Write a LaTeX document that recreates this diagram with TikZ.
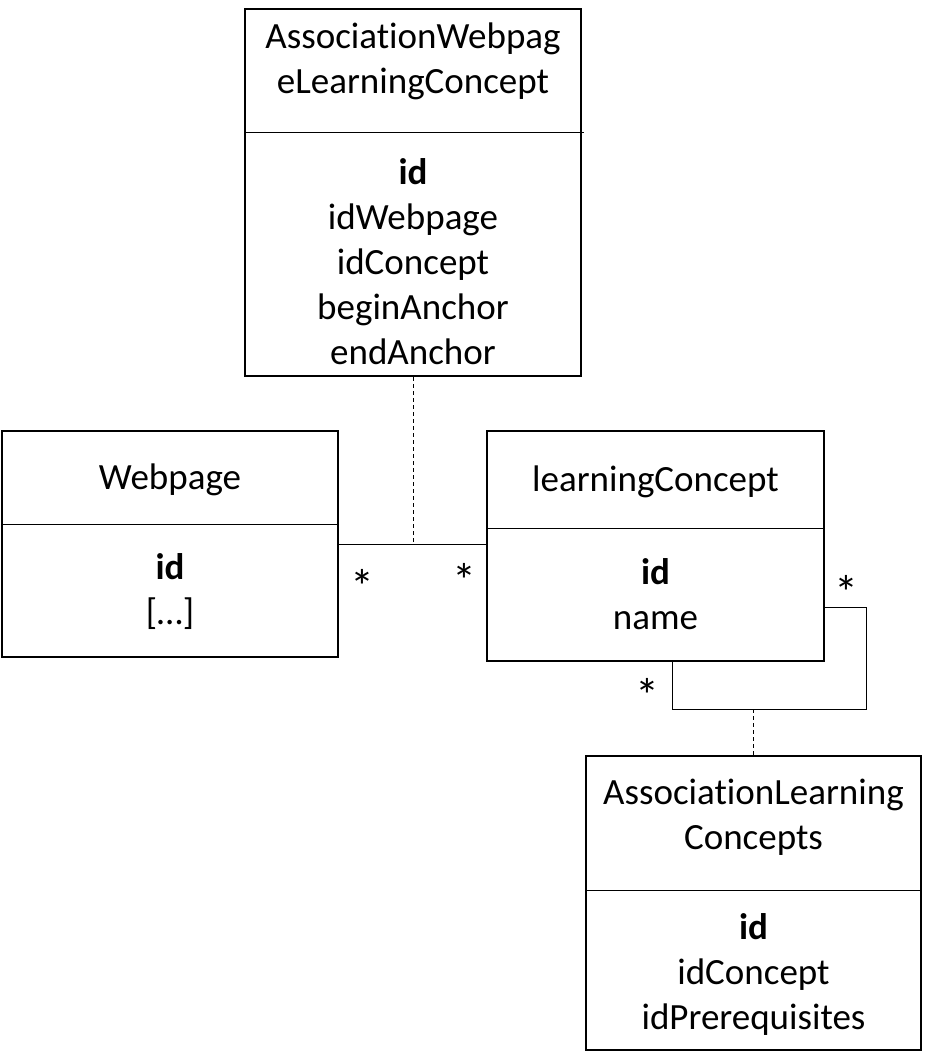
\documentclass[tikz,border=0pt]{standalone}
\usepackage{fontspec}
\setmainfont{Carlito}[Ligatures=NoCommon]
\usepackage{tikz}
\usetikzlibrary{positioning}
\tikzset {
    x=0.5pt, y=-0.5pt,
    every node/.style={font=\fontsize{18.5}{22.5}\selectfont},
    entity/.style={draw, line width=1pt, inner sep=0pt},
    txt/.style={align=center, inner sep=0pt},
    mult/.style={inner sep=0pt, font=\fontsize{24}{28}\selectfont},
    rule/.style={line width=0.5pt},
    assoc/.style={line width=0.5pt, dash pattern=on 2pt off 1.5pt}
}

\begin{document}
\begin{tikzpicture}
                    \useasboundingbox (0,0) rectangle (929,1062);

                    % entities
                    \node[entity, minimum width=168pt, minimum height=183.5pt] (awl) at (413,192.5) {};
                    \node[entity, minimum width=168pt, minimum height=113pt] (wp) at (170,544) {};
                    \node[entity, minimum width=168.5pt, minimum height=115pt] (lc) at (655.5,546) {};
                    \node[entity, minimum width=167.5pt, minimum height=147pt] (alc) at (753.5,903) {};

                    % texts
                    \node[txt] (awlT) at (413,61) {AssociationWebpag\\eLearningConcept};
                    \node[txt] (awlA) at (413,262) {\textbf{id}\\idWebpage\\idConcept\\beginAnchor\\endAnchor};
                    \node[txt] (wpT) at (170,480) {Webpage};
                    \node[txt] (wpA) at (170,592) {\textbf{id}\\{[\dots]}};
                    \node[txt] (lcT) at (655.5,482) {learningConcept};
                    \node[txt] (lcA) at (655.5,594) {\textbf{id}\\name};
                    \node[txt] (alcT) at (753.5,817) {AssociationLearning\\Concepts};
                    \node[txt] (alcA) at (753.5,974) {\textbf{id}\\idConcept\\idPrerequisites};

                    % dividers
                    \coordinate (d1) at (584,132);
                    \coordinate (d2) at (0,524);
                    \coordinate (d3) at (0,528);
                    \coordinate (d4) at (0,890);
                    \draw[rule] (awl.west |- d1) -- (d1);
                    \draw[rule] (wp.west |- d2) -- (wp.east |- d2);
                    \draw[rule] (lc.west |- d3) -- (lc.east |- d3);
                    \draw[rule] (alc.west |- d4) -- (alc.east |- d4);

                    % Webpage -- learningConcept
                    \coordinate (j1) at (413,544);
                    \draw[rule] (j1 -| wp.east) -- (j1 -| lc.west);
                    \draw[assoc] (awl.south) -- (j1);
                    \node[mult] (m1) at (362,586) {*};
                    \node[mult] (m2) at (464,580) {*};

                    % learningConcept -- learningConcept
                    \coordinate (l1) at (672,709);
                    \coordinate (l2) at (866,607);
                    \draw[rule] (lc.south -| l1) -- (l1) -- (l2 |- l1) -- (l2) -- (l2 -| lc.east);
                    \draw[assoc] (alc.north |- l1) -- (alc.north);
                    \node[mult] (m3) at (846,592) {*};
                    \node[mult] (m4) at (647,695) {*};
                    \end{tikzpicture}
\end{document}
